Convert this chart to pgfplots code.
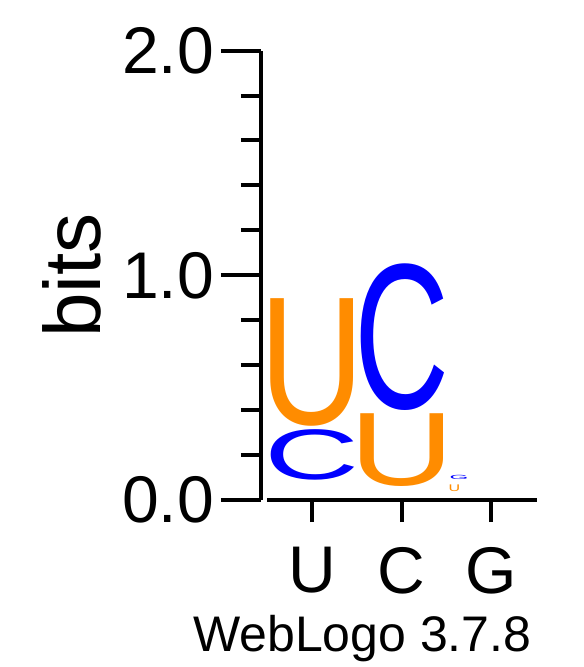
\documentclass[border=0pt]{standalone}
\usepackage{pgfplots}
\pgfplotsset{compat=1.18}
\usepackage{graphicx}
\usepackage{fontspec}
\setmainfont{Liberation Sans}
\definecolor{logoorange}{RGB}{255,140,0}
\definecolor{logoblue}{RGB}{0,0,255}
\pgfplotsset{
  logo letter/.style n args={4}{draw=none, mark=none, forget plot,
    nodes near coords={\pgfmathsetlengthmacro\Lh{#3*112.35pt}\resizebox*{#2}{\Lh}{\textcolor{#4}{#1}}},
    nodes near coords align=vertical,
    every node near coord/.append style={inner sep=0pt, outer sep=0pt}}
}
\begin{document}
\begin{tikzpicture}
\useasboundingbox (-130.5pt,-83.5pt) rectangle (161pt,250pt);
\begin{axis}[
  at={(0,0)}, anchor=south west,
  x=44.8pt, y=112.35pt,
  xmin=0.43, xmax=3.51, ymin=0, ymax=2,
  axis y line*=left, axis x line*=bottom,
  x axis line style={draw=none},
  y axis line style={line width=2pt, black},
  clip=false,
  tick align=outside,
  ytick={0,1,2}, yticklabels={0.0,1.0,2.0},
  minor ytick={0.2,0.4,0.6,0.8,1.2,1.4,1.6,1.8},
  xtick={1,2,3}, xticklabels={U,C,G},
  major tick length=20pt, minor tick length=10pt,
  xtick style={/pgfplots/major tick length=11pt, line width=2pt, black},
  ytick style={line width=2pt, black},
  minor tick style={line width=2pt, black},
  tick label style={font=\fontsize{33}{33}\selectfont},
  /pgf/number format/assume math mode=true,
  ylabel={bits},
  ylabel style={font=\fontsize{40}{40}\selectfont, at={(axis description cs:-0.583,0.5)}, anchor=base},
]
\addplot[black, line width=2pt, forget plot] coordinates {(0.5,0) (3.51,0)};
% position 1
\addplot[logo letter={C}{47.5pt}{0.225}{logoblue}] coordinates {(1,0.086)};
\addplot[logo letter={U}{52.6pt}{0.568}{logoorange}] coordinates {(1,0.326)};
% position 2
\addplot[logo letter={U}{52.6pt}{0.324}{logoorange}] coordinates {(2,0.059)};
\addplot[logo letter={C}{47.5pt}{0.653}{logoblue}] coordinates {(2,0.400)};
% position 3
\addplot[logo letter={U}{5.8pt}{0.030}{logoorange}] coordinates {(2.59,0.037)};
\addplot[logo letter={G}{9.4pt}{0.019}{logoblue}] coordinates {(2.64,0.089)};
\node[anchor=base, font=\fontsize{25}{25}\selectfont] at (axis cs:1.56,-0.672) {WebLogo 3.7.8};
\end{axis}
\end{tikzpicture}
\end{document}
